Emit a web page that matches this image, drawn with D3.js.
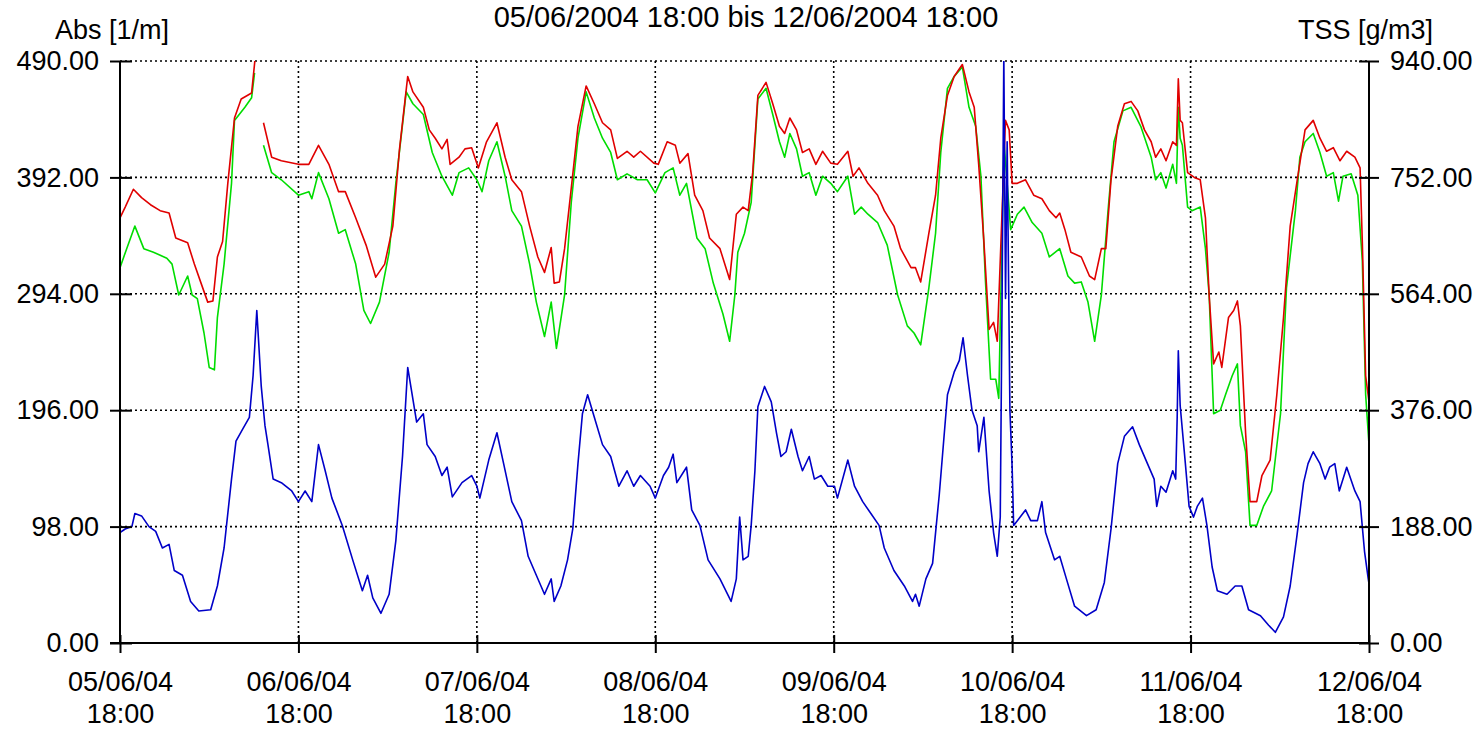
<!DOCTYPE html>
<html>
<head>
<meta charset="utf-8">
<script src="https://cdn.jsdelivr.net/npm/d3@7"></script>
<style>
body { margin: 0; background: #fff; }
text { font-family: "Liberation Sans", Arial, sans-serif; fill: #000; }
</style>
</head>
<body>
<svg id="chart" width="1484" height="730"></svg>
<script>
// time axis: hours since 05/06/2004 18:00
const startTime = new Date(2004, 5, 5, 18, 0);
const titleText = "05/06/2004 18:00 bis 12/06/2004 18:00";
const xTickHours = [0, 24, 48, 72, 96, 120, 144, 168];
const xTickLabels = [
    ["05/06/04", "18:00"], ["06/06/04", "18:00"], ["07/06/04", "18:00"], ["08/06/04", "18:00"],
    ["09/06/04", "18:00"], ["10/06/04", "18:00"], ["11/06/04", "18:00"], ["12/06/04", "18:00"]
];
const leftTicks = [0, 98, 196, 294, 392, 490];
const rightTicks = [0, 188, 376, 564, 752, 940];

// [hour, value] readings, null = gap in the record
const redSeries = [
    [0,358],[0.7,367],[1.8,382],[2.9,375],[4.1,369],[5.4,364],[6.6,362],[7.5,341],[9.1,337],[10.0,319],
    [10.9,303],[11.8,287],[12.5,288],[13.1,325],[13.8,338],[14.5,387],[15.4,442],[16.3,458],[17.7,463],[18.3,500],
    [18.8,null],[19.3,438],[20.4,409],[21.7,406],[24.0,403],[25.4,403],[26.7,419],[28.1,403],[29.4,380],[30.3,380],
    [31.7,358],[33.1,335],[34.4,308],[35.6,319],[36.7,351],[37.6,416],[38.7,477],[39.4,464],[40.8,451],[41.6,432],
    [42.4,425],[43.3,416],[44.0,424],[44.4,403],[45.6,409],[46.4,416],[47.3,417],[48.2,400],[49.3,422],[50.7,438],
    [51.8,409],[52.7,390],[54.0,380],[55.1,351],[56.2,325],[57.1,312],[58.0,333],[58.4,303],[59.1,304],[59.8,332],
    [60.7,383],[61.6,435],[62.7,469],[63.8,454],[64.9,438],[66.0,432],[66.9,408],[68.2,414],[69.1,409],[70.0,414],
    [71.8,404],[72.4,403],[73.6,422],[74.7,419],[75.3,404],[76.4,412],[77.3,377],[78.4,364],[79.3,341],[80.7,332],
    [82.0,306],[82.9,361],[83.8,367],[84.5,364],[85.1,396],[85.8,461],[86.9,472],[87.8,454],[88.7,435],[89.4,429],
    [90.1,442],[91.0,432],[91.8,413],[92.7,416],[93.6,403],[94.5,414],[95.6,404],[96.5,403],[97.9,414],[98.6,393],
    [99.4,400],[100.6,387],[101.9,377],[102.8,364],[104.1,351],[105.0,332],[106.4,316],[107.0,316],[107.7,304],[108.8,345],
    [109.7,377],[110.4,425],[111.3,461],[112.2,477],[113.3,487],[114.2,464],[114.9,451],[115.5,403],[116.2,338],[116.9,264],
    [117.5,270],[118.0,254],[119.1,440],[119.6,432],[120.0,387],[120.7,387],[121.8,390],[122.9,377],[124.0,374],[125.0,364],
    [125.9,358],[126.4,362],[127.1,348],[127.9,329],[129.3,325],[130.4,309],[131.1,306],[132.0,332],[132.6,332],[133.3,390],
    [134.2,435],[135.1,454],[136.0,456],[136.9,448],[137.8,432],[138.7,422],[139.3,409],[140.0,416],[140.7,406],[141.6,422],
    [142.1,419],[142.35,475],[142.6,440],[142.9,438],[143.6,396],[144.5,392],[145.3,390],[146.0,358],[146.5,293],[147.1,235],
    [147.8,245],[148.2,232],[149.1,274],[149.8,280],[150.3,288],[150.7,267],[151.4,177],[152.0,119],[152.9,119],[153.6,141],
    [154.7,154],[155.6,209],[156.5,274],[157.4,351],[158.5,396],[159.4,432],[160.5,440],[161.4,425],[162.3,414],[163.2,417],
    [164.1,406],[165.0,414],[166.1,409],[166.8,400],[167.1,338],[167.55,225],[168,203]
];

const greenSeries = [
    [0,316],[0.9,332],[2.0,351],[3.2,332],[4.5,329],[6.3,324],[7.0,319],[7.9,293],[9.1,309],[9.7,293],
    [10.4,290],[11.3,261],[12.0,232],[12.7,230],[13.1,274],[14.0,319],[15.0,387],[15.4,440],[16.8,451],[17.7,459],
    [18.1,480],[18.8,null],[19.3,419],[20.4,396],[21.7,390],[24.0,377],[25.4,380],[25.8,374],[26.7,396],[28.1,374],
    [29.4,345],[30.3,348],[31.7,319],[32.8,280],[33.7,269],[34.9,287],[36.2,329],[37.1,387],[38.5,464],[39.4,454],
    [40.8,445],[42.0,413],[43.3,393],[44.7,377],[45.6,396],[46.9,400],[48.0,390],[48.7,380],[49.6,406],[50.7,422],
    [51.8,393],[52.7,364],[54.0,351],[55.1,319],[56.0,287],[57.1,258],[58.0,287],[58.7,248],[59.8,293],[60.7,371],
    [61.6,425],[62.7,464],[63.8,442],[64.9,425],[66.0,413],[66.9,390],[68.2,395],[69.6,390],[70.9,390],[72.0,379],
    [73.3,396],[74.4,400],[75.3,377],[76.2,387],[77.6,341],[78.7,332],[79.8,303],[81.1,277],[82.0,254],[82.7,293],
    [83.1,329],[84.0,345],[84.9,371],[85.8,458],[86.9,467],[87.8,445],[88.7,422],[89.4,409],[90.1,429],[91.0,416],
    [91.8,393],[92.7,396],[93.6,377],[94.5,393],[95.6,387],[96.5,380],[97.9,393],[98.8,361],[99.7,367],[100.6,361],
    [101.9,354],[103.2,335],[104.6,293],[105.9,267],[106.8,261],[107.7,251],[108.8,299],[109.7,345],[110.4,413],[111.3,467],
    [112.2,477],[113.3,485],[114.2,451],[115.1,435],[115.8,393],[116.4,306],[117.1,222],[117.8,222],[118.2,206],[118.9,422],
    [119.8,348],[120.7,361],[121.6,367],[122.7,354],[124.0,345],[125.0,325],[126.4,332],[127.5,309],[128.4,303],[129.3,304],
    [130.2,287],[131.1,254],[132.0,293],[132.9,364],[133.7,422],[134.9,448],[136.0,451],[137.3,435],[138.7,409],[139.3,390],
    [140.0,396],[140.7,383],[141.6,403],[142.1,387],[142.35,451],[142.6,425],[142.9,419],[143.6,367],[144.2,364],[145.3,367],
    [146.0,332],[146.5,293],[147.1,193],[148.0,196],[148.7,209],[149.6,225],[150.3,235],[150.7,183],[151.4,161],[152.0,99],
    [152.9,99],[153.8,115],[154.9,128],[156.1,193],[156.9,299],[158.1,364],[158.7,409],[159.4,422],[160.5,429],[161.4,413],
    [162.3,393],[163.2,396],[163.9,372],[164.5,393],[165.6,395],[166.5,377],[167.1,322],[167.55,209],[168,167]
];

const blueSeries = [
    [0,93],[0.7,96],[1.6,98],[2.0,109],[2.9,107],[3.9,98],[4.8,94],[5.7,80],[6.6,83],[7.3,61],
    [8.4,57],[9.5,35],[10.6,27],[12.2,28],[13.1,48],[14.0,80],[15.0,138],[15.6,170],[16.5,180],[17.4,190],
    [17.9,225],[18.4,280],[19.0,216],[19.5,183],[19.9,167],[20.6,138],[21.7,135],[23.1,128],[24.0,119],[24.9,128],
    [25.8,119],[26.7,167],[27.6,145],[28.5,122],[29.9,99],[31.3,70],[32.6,44],[33.3,57],[34.0,38],[35.1,25],
    [36.2,41],[37.1,86],[38.0,157],[38.7,232],[39.9,186],[40.8,193],[41.3,167],[42.4,157],[43.3,141],[44.0,148],
    [44.7,123],[46.0,135],[47.3,141],[48.0,132],[48.4,122],[49.6,154],[50.7,177],[51.6,151],[52.7,119],[54.0,103],
    [54.9,73],[56.0,57],[57.1,41],[58.0,54],[58.4,35],[59.3,48],[60.2,70],[60.9,96],[61.6,151],[62.2,193],
    [62.9,209],[63.8,190],[64.9,167],[66.0,157],[67.1,132],[68.2,145],[69.1,132],[70.0,141],[71.3,132],[72.0,122],
    [73.1,141],[73.8,148],[74.4,159],[74.9,135],[76.2,148],[76.9,112],[78.0,99],[79.1,70],[80.7,54],[82.2,35],
    [82.9,54],[83.35,106],[83.8,70],[84.5,73],[84.9,99],[85.4,145],[85.8,199],[86.7,216],[87.6,203],[88.3,177],
    [88.9,157],[89.6,161],[90.3,180],[91.2,157],[91.8,145],[92.7,157],[93.4,138],[94.3,141],[95.2,132],[96.1,132],
    [96.5,122],[97.9,154],[98.8,132],[99.9,119],[101.0,109],[102.1,99],[102.8,80],[104.1,61],[105.5,48],[106.6,35],
    [107.0,41],[107.5,31],[108.4,54],[109.3,67],[110.2,125],[111.3,209],[112.2,228],[112.9,238],[113.4,257],[114.0,225],
    [114.6,196],[115.3,183],[115.5,161],[116.2,190],[116.9,128],[117.5,93],[118.0,73],[118.4,106],[118.66,300],[118.88,495],
    [119.11,290],[119.33,422],[119.7,196],[120.0,148],[120.2,99],[120.7,103],[121.8,112],[122.5,103],[123.4,103],[124.0,119],
    [124.5,93],[125.7,70],[126.4,73],[127.3,54],[128.4,31],[130.0,23],[131.3,28],[132.4,51],[133.3,96],[134.2,151],
    [135.1,174],[136.2,182],[137.1,167],[138.2,151],[139.1,138],[139.45,115],[140.0,132],[140.7,127],[141.6,145],[142.0,138],
    [142.2,190],[142.35,246],[142.6,200],[143.3,151],[143.8,115],[144.4,106],[144.9,115],[145.6,122],[146.2,99],[146.9,64],
    [147.6,44],[148.9,41],[150.0,48],[150.9,48],[151.8,28],[153.4,23],[154.5,15],[155.4,9],[156.5,22],[157.4,48],
    [158.3,90],[159.2,135],[159.8,151],[160.5,161],[161.4,151],[162.1,138],[162.7,148],[163.4,151],[164.0,128],[165.0,148],
    [166.1,128],[166.8,119],[167.4,77],[167.9,54],[168,50]
];

const seriesColors = { red: "#e00000", green: "#00dd00", blue: "#0000c8" };

const svg = d3.select("#chart");
const plotLeft = 120, plotRight = 1369, plotTop = 61, plotBottom = 643;
const labelSize = 27;

const toDate = h => new Date(startTime.getTime() + h * 3600 * 1000);

const x = d3.scaleTime()
    .domain([startTime, toDate(168)])
    .range([plotLeft, plotRight]);
const y = d3.scaleLinear().domain([0, 490]).range([plotBottom, plotTop]);
const yRight = d3.scaleLinear().domain([0, 940]).range([plotBottom, plotTop]);

// dotted grid
const grid = svg.append("g").attr("stroke", "#000").attr("stroke-width", 1.6).attr("stroke-dasharray", "2,3");
leftTicks.filter(v => v > 0).forEach(v => {
    grid.append("line").attr("x1", plotLeft).attr("x2", plotRight).attr("y1", y(v)).attr("y2", y(v));
});
xTickHours.filter(h => h > 0 && h < 168).forEach(h => {
    grid.append("line").attr("x1", x(toDate(h))).attr("x2", x(toDate(h))).attr("y1", plotTop).attr("y2", plotBottom);
});

// data lines
svg.append("clipPath").attr("id", "plotClip")
    .append("rect").attr("x", plotLeft).attr("y", plotTop)
    .attr("width", plotRight - plotLeft).attr("height", plotBottom - plotTop);

const line = d3.line()
    .defined(d => d[1] !== null)
    .x(d => x(toDate(d[0])))
    .y(d => y(d[1]));

const plot = svg.append("g").attr("clip-path", "url(#plotClip)");
[[greenSeries, seriesColors.green], [redSeries, seriesColors.red], [blueSeries, seriesColors.blue]].forEach(([s, color]) => {
    plot.append("path")
        .datum(s)
        .attr("fill", "none")
        .attr("stroke", color)
        .attr("stroke-width", 1.6)
        .attr("stroke-linejoin", "round")
        .attr("d", line);
});

// axes
const fmt = d3.format(".2f");
const gLeft = svg.append("g")
    .attr("transform", `translate(${plotLeft},0)`)
    .call(d3.axisLeft(y).tickValues(leftTicks).tickFormat(fmt).tickSize(10).tickPadding(11));
const gRight = svg.append("g")
    .attr("transform", `translate(${plotRight},0)`)
    .call(d3.axisRight(yRight).tickValues(rightTicks).tickFormat(fmt).tickSize(10).tickPadding(11));
const gBottom = svg.append("g")
    .attr("transform", `translate(0,${plotBottom})`)
    .call(d3.axisBottom(x).tickValues(xTickHours.map(toDate)).tickFormat("").tickSize(10));

gLeft.selectAll(".tick line").attr("x1", 12);
gRight.selectAll(".tick line").attr("x1", -10);
gBottom.selectAll(".tick line").attr("y1", -8);

[gLeft, gRight, gBottom].forEach(g => {
    g.select(".domain").attr("stroke", "#000").attr("stroke-width", 2);
    g.selectAll(".tick line").attr("stroke", "#000").attr("stroke-width", 2);
    g.selectAll(".tick text").attr("font-size", labelSize).attr("font-family", "Liberation Sans, Arial, sans-serif");
});
gLeft.select(".domain").attr("d", `M0,${plotTop}V${plotBottom}`);
gRight.select(".domain").attr("d", `M0,${plotTop}V${plotBottom}`);
gBottom.select(".domain").attr("d", `M${plotLeft - 10},0H${plotRight}`);

gBottom.selectAll(".tick").each(function(d, i) {
    const t = d3.select(this).append("text")
        .attr("fill", "#000")
        .attr("font-size", labelSize)
        .attr("text-anchor", "middle");
    t.append("tspan").attr("x", 0).attr("y", 48).text(xTickLabels[i][0]);
    t.append("tspan").attr("x", 0).attr("y", 80).text(xTickLabels[i][1]);
});

// titles
svg.append("text").attr("x", 746).attr("y", 27).attr("text-anchor", "middle")
    .attr("font-size", 29).text(titleText);
svg.append("text").attr("x", 55).attr("y", 39).attr("font-size", labelSize).text("Abs [1/m]");
svg.append("text").attr("x", 1433).attr("y", 39).attr("text-anchor", "end").attr("font-size", labelSize).text("TSS [g/m3]");
</script>
</body>
</html>
